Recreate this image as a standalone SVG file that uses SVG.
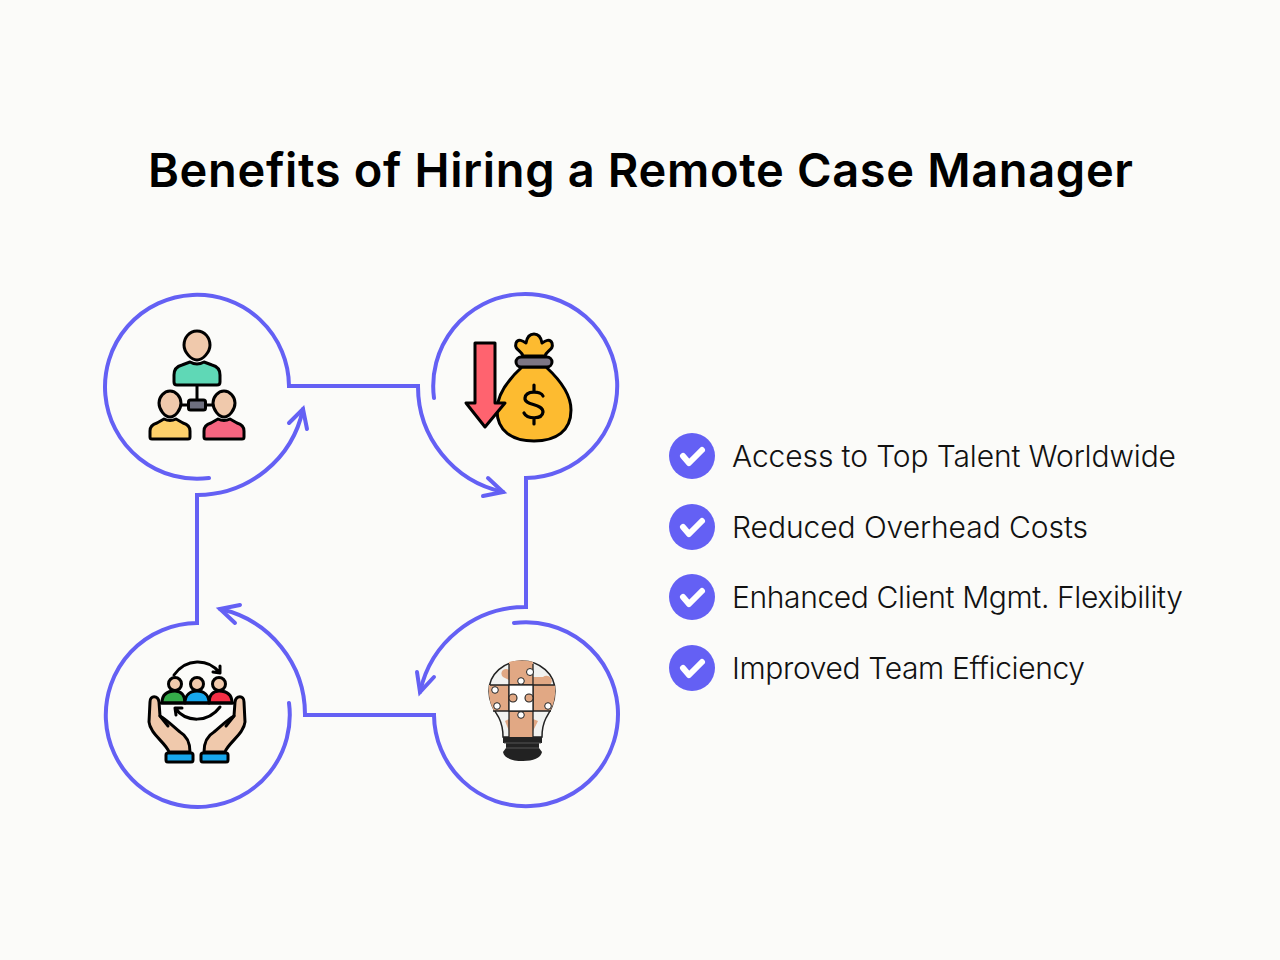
<svg xmlns="http://www.w3.org/2000/svg" width="1280" height="960" viewBox="0 0 1280 960">
<style>
.t{font-family:"Inter","Lato","Liberation Sans",sans-serif;fill:#000}
.title{font-size:47px;font-weight:600}
.li{font-size:30px;font-weight:300;fill:#111}
.c{fill:none;stroke:#6460f4;stroke-width:4;stroke-linecap:round;stroke-linejoin:miter}
.k{stroke:#000;stroke-width:3;stroke-linejoin:round;stroke-linecap:round}
.p{stroke:#222;stroke-width:1.300}
.chk{fill:none;stroke:#fff;stroke-width:6;stroke-linecap:round;stroke-linejoin:round}
</style>
<rect width="1280" height="960" fill="#fbfbf9"/>
<text class="t title" x="148" y="187" textLength="985" lengthAdjust="spacing">Benefits of Hiring a Remote Case Manager</text>

<g id="connectors">
<path class="c" d="M209 478A92 92 0 1 1 289 386H418A108 108 0 0 0 503 492"/>
<path class="c" d="M483 496L503 492L488 478"/>
<path class="c" d="M434 398A92 92 0 1 1 526 478V607A108 108 0 0 0 420 692"/>
<path class="c" d="M417 672L420 692L434 677"/>
<path class="c" d="M514 623A92 92 0 1 1 434 715H305A108 108 0 0 0 220 609"/>
<path class="c" d="M240 605L220 609L235 623"/>
<path class="c" d="M289 703A92 92 0 1 1 197 623V495A108 108 0 0 0 303 409"/>
<path class="c" d="M289 423L303 409L307 429"/>
</g>

<g id="node-team">
<path class="k" fill="none" d="M197 385V402M180 405H214"/>
<path class="k" fill="#5fd8b6" d="M174 382V375Q174 367 182 365L190 362Q197 366 204 362L212 365Q220 367 220 375V382Q220 385 217 385H177Q174 385 174 382Z"/>
<path class="k" fill="#f0c9ac" d="M197 331C205 331 210 338 210 345C210 352 203 360 197 360C191 360 184 352 184 345C184 338 189 331 197 331Z"/>
<rect class="k" x="188.500" y="400" width="17" height="10" rx="2" fill="#6e6f7f"/>
<path class="k" fill="#f0c9ac" d="M170 391C176 391 181 397 181 403C181 410 175 417 170 417C165 417 159 410 159 403C159 397 164 391 170 391Z"/>
<path class="k" fill="#f0c9ac" d="M224 391C230 391 235 397 235 403C235 410 229 417 224 417C219 417 213 410 213 403C213 397 218 391 224 391Z"/>
<path class="k" fill="#fdd06b" d="M150 437V431Q150 425 157 423L164 419Q170 422 176 419L183 423Q190 425 190 431V437Q190 439 188 439H152Q150 439 150 437Z"/>
<path class="k" fill="#f76580" d="M204 437V431Q204 425 211 423L218 419Q224 422 230 419L237 423Q244 425 244 431V437Q244 439 242 439H206Q204 439 204 437Z"/>
</g>

<g id="node-cost">
<path class="k" stroke-width="3.600" fill="#fdbb30" d="M522 367C510 378 497 393 497 410C497 431 512 441 534 441C556 441 571 431 571 410C571 393 558 378 546 367Z"/>
<path class="k" stroke-width="3.600" fill="#fdbb30" d="M523 356C521 350 514 350 516 343C518 338 523 341 526 343C527 337 530 334 534 334C538 334 541 337 542 343C545 341 550 338 552 343C554 350 547 350 545 356Z"/>
<rect class="k" stroke-width="3.600" x="516" y="357" width="36" height="10" rx="5" fill="#7d7684"/>
<path fill="none" stroke="#000" stroke-width="3.200" stroke-linecap="round" d="M543 396C541 391 526 390 525 398C524 406 543 403 543 412C542 420 527 419 524 413M534 385V391M534 418V424"/>
<path class="k" stroke-width="3.600" fill="#ff636f" d="M475 343H495V403H505L485 427L466 403H475Z"/>
</g>

<g id="node-idea">
<path fill="#f1f2f0" stroke="#222" stroke-width="1.500" d="M522 661C504 661 489 674 489 691C489 703 495 711 499 718C502 724 503 730 503 737H542C542 730 543 724 546 718C550 711 555 703 555 691C555 674 540 661 522 661Z"/>
<path fill="#e1a884" d="M509 662C516 660 527 660 533 662V685H509ZM533 685H555C556 698 553 706 550 711H533ZM509 711H533V737H509ZM489 685H509V711H494C490 704 488 695 489 685Z"/>
<path fill="#e1a884" d="M509 670A4 4 0 1 0 503 677L509 680ZM505 721L509 731V719ZM538 721L533 731V719ZM533 677H543A4 4 0 1 1 550 685H533Z"/>
<path fill="none" class="p" d="M509 664V737M533 664V737M490 685H555M493 711H551"/>
<rect x="509" y="685" width="24" height="26" fill="#fff" stroke="#222" stroke-width="1.300"/>
<g fill="#e1a884" stroke="#222" stroke-width="1.100">
<circle cx="513" cy="698" r="4"/><circle cx="529" cy="698" r="4"/>
</g>
<g fill="#fff" stroke="#222" stroke-width="1">
<circle cx="521" cy="681" r="3.300"/><circle cx="521" cy="715" r="3.300"/>
<circle cx="530" cy="672" r="3.500"/><circle cx="495" cy="690" r="3.300"/><circle cx="497" cy="706" r="3.300"/><circle cx="548" cy="706" r="3.300"/>
</g>
<path fill="#222" d="M503 737H542V743H539V748L542 752C541 758 533 761 523 761C512 761 504 758 503 752L506 748V743H503Z"/>
<path fill="none" stroke="#555" stroke-width="1" d="M504 743H541M506 748H539"/>
</g>

<g id="node-collab">
<path fill="none" class="k" stroke-width="2.400" d="M174 675C186 658 208 658 220 673M213 672L220 673L220 666M220 707C208 723 186 723 175 708M182 708L175 708L176 715"/>
<g class="k" stroke-width="2.400">
<path fill="#35ab4a" d="M162 703C162 694 168 691 175 691C181 691 185 695 185 703Z"/>
<path fill="#f42e45" d="M209 703C209 695 213 691 219 691C226 691 232 694 232 703Z"/>
<path fill="#17a7ec" d="M185 703C185 695 190 691 197 691C204 691 209 695 209 703Z"/>
<circle cx="175" cy="684" r="6.500" fill="#f0c9ac"/>
<circle cx="197" cy="684" r="6.500" fill="#f0c9ac"/>
<circle cx="219" cy="684" r="6.500" fill="#f0c9ac"/>
</g>
<path class="k" fill="none" d="M161 703H233"/>
<g id="hand-left">
<path class="k" fill="#f0c9ac" d="M169 752C166 743 150 734 149 722L150 702C150 695 158 695 159 702L160 716C167 720 174 727 180 732C187 736 190 742 190 752Z"/>
<path class="k" fill="none" d="M160 716L168 726"/>
<rect class="k" x="166" y="753" width="27" height="9" rx="2" fill="#17a7ec"/>
</g>
<g id="hand-right">
<path class="k" fill="#f0c9ac" d="M225 752C228 743 244 734 245 722L244 702C244 695 236 695 235 702L234 716C227 720 220 727 214 732C207 736 204 742 204 752Z"/>
<path class="k" fill="none" d="M234 716L226 726"/>
<rect class="k" x="201" y="753" width="27" height="9" rx="2" fill="#17a7ec"/>
</g>
</g>

<g id="item-1"><circle cx="692" cy="456" r="23" fill="#6460f4"/><path class="chk" d="M683 456L689 463L702 450"/><text class="t li" x="732" y="467" textLength="444" lengthAdjust="spacing">Access to Top Talent Worldwide</text></g>
<g id="item-2"><circle cx="692" cy="527" r="23" fill="#6460f4"/><path class="chk" d="M683 527L689 534L702 521"/><text class="t li" x="732" y="538" textLength="356" lengthAdjust="spacing">Reduced Overhead Costs</text></g>
<g id="item-3"><circle cx="692" cy="597" r="23" fill="#6460f4"/><path class="chk" d="M683 597L689 604L702 591"/><text class="t li" x="732" y="608" textLength="451" lengthAdjust="spacing">Enhanced Client Mgmt. Flexibility</text></g>
<g id="item-4"><circle cx="692" cy="668" r="23" fill="#6460f4"/><path class="chk" d="M683 668L689 675L702 662"/><text class="t li" x="732" y="679" textLength="353" lengthAdjust="spacing">Improved Team Efficiency</text></g>
</svg>
